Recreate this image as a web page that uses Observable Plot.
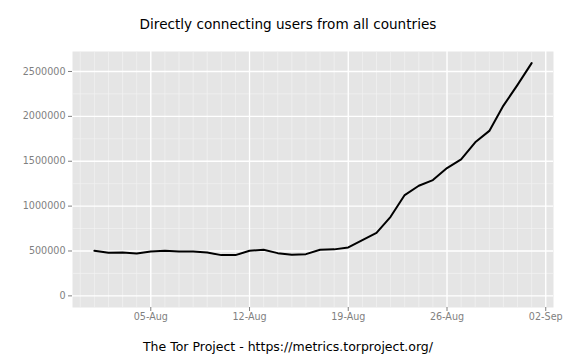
<!DOCTYPE html>
<html>
<head>
<meta charset="utf-8">
<script src="https://cdn.jsdelivr.net/npm/d3@7"></script>
<script src="https://cdn.jsdelivr.net/npm/@observablehq/plot@0.6"></script>
<style>
  html, body { margin: 0; padding: 0; background: #fff; }
  #wrap { position: relative; width: 576px; height: 360px; font-family: "DejaVu Sans", sans-serif; }
  #title { position: absolute; left: 0; width: 576px; top: 15.5px; text-align: center; font-size: 13.6px; line-height: normal; color: #000; }
  #caption { position: absolute; left: 0; width: 576px; top: 339px; text-align: center; font-size: 12.5px; line-height: normal; color: #000; }
  #chart { position: absolute; left: 0; top: 40px; }
</style>
</head>
<body>
<div id="wrap">
  <div id="title">Directly connecting users from all countries</div>
  <div id="chart"></div>
  <div id="caption">The Tor Project - https://metrics.torproject.org/</div>
</div>
<script>
const dates = [
  "2013-08-01","2013-08-02","2013-08-03","2013-08-04","2013-08-05","2013-08-06","2013-08-07","2013-08-08",
  "2013-08-09","2013-08-10","2013-08-11","2013-08-12","2013-08-13","2013-08-14","2013-08-15","2013-08-16",
  "2013-08-17","2013-08-18","2013-08-19","2013-08-20","2013-08-21","2013-08-22","2013-08-23","2013-08-24",
  "2013-08-25","2013-08-26","2013-08-27","2013-08-28","2013-08-29","2013-08-30","2013-08-31","2013-09-01"
];
const users = [
  502000, 480000, 483000, 472000, 494000, 502000, 494000, 494000,
  483000, 454000, 454000, 502000, 513000, 476000, 457000, 465000,
  513000, 518000, 539000, 621000, 702000, 881000, 1123000, 1227000,
  1290000, 1424000, 1521000, 1711000, 1838000, 2120000, 2351000, 2593000
];
const xTickLabels = ["2013-08-05","2013-08-12","2013-08-19","2013-08-26","2013-09-02"];
const yTicks = [0, 500000, 1000000, 1500000, 2000000, 2500000];
const yMinorTicks = [250000, 750000, 1250000, 1750000, 2250000];

const parse = d3.utcParse("%Y-%m-%d");
const data = dates.map((d, i) => ({date: parse(d), users: users[i]}));
const xTicks = xTickLabels.map(parse);

const x0 = +data[0].date, x1 = +data[data.length - 1].date;
const xpad = (x1 - x0) * 0.05;
const xDomain = [new Date(x0 - xpad), new Date(x1 + xpad)];
const ymax = d3.max(users);
const yDomain = [-ymax * 0.05, ymax * 1.05];
const minorDays = d3.utcDay.range(new Date(x0 - xpad), new Date(x1 + xpad + 1));

const plot = Plot.plot({
  width: 576,
  height: 290,
  marginTop: 11,
  marginBottom: 23,
  marginLeft: 72,
  marginRight: 23,
  style: {fontFamily: "DejaVu Sans, sans-serif", background: "transparent"},
  x: {type: "utc", domain: xDomain},
  y: {domain: yDomain},
  marks: [
    Plot.frame({fill: "#e5e5e5", stroke: null}),
    Plot.ruleX(minorDays, {stroke: "#f2f2f2", strokeWidth: 0.7}),
    Plot.ruleY(yMinorTicks, {stroke: "#f2f2f2", strokeWidth: 0.7}),
    Plot.ruleX(xTicks, {stroke: "#ffffff", strokeWidth: 1.3}),
    Plot.ruleY(yTicks, {stroke: "#ffffff", strokeWidth: 1.3}),
    Plot.line(data, {x: "date", y: "users", stroke: "#000", strokeWidth: 2}),
    Plot.axisX({ticks: xTicks, tickFormat: d3.utcFormat("%d-%b"), tickSize: 4, tickPadding: 2,
      color: "#7f7f7f", fontSize: 9.6, label: null}),
    Plot.axisY({ticks: yTicks, tickFormat: d3.format("d"), tickSize: 4, tickPadding: 3,
      color: "#7f7f7f", fontSize: 9.6, label: null})
  ]
});
document.getElementById("chart").appendChild(plot);
</script>
</body>
</html>
